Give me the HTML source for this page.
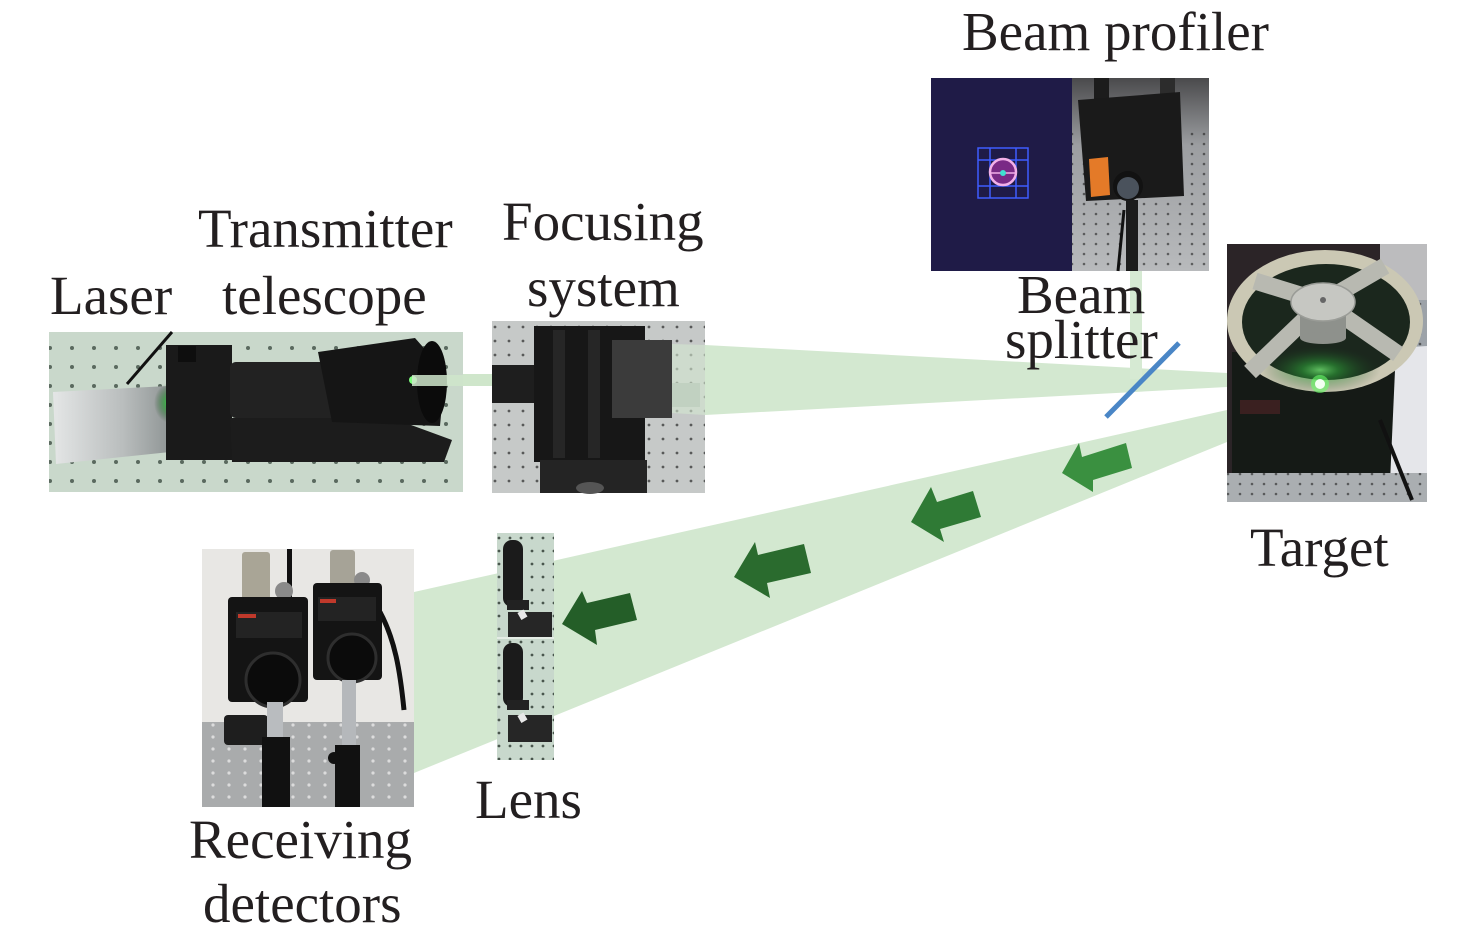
<!DOCTYPE html>
<html><head><meta charset="utf-8"><style>
html,body{margin:0;padding:0;background:#fff;}
svg{display:block;}
text{font-family:"Liberation Serif","Times New Roman",serif;font-size:55px;fill:#231f20;}
</style></head><body>
<svg width="1476" height="947" viewBox="0 0 1476 947" xmlns="http://www.w3.org/2000/svg">
<defs>
<pattern id="dotsA" width="22" height="19" patternUnits="userSpaceOnUse"><circle cx="6" cy="6" r="2" fill="#2b3a30" opacity="0.7"/></pattern>
<pattern id="dotsB" width="14" height="14" patternUnits="userSpaceOnUse"><circle cx="5" cy="5" r="1.4" fill="#2a2a2a" opacity="0.7"/></pattern>
<pattern id="dotsC" width="12" height="10" patternUnits="userSpaceOnUse"><circle cx="4" cy="4" r="1.3" fill="#222" opacity="0.6"/></pattern>
<pattern id="dotsD" width="16" height="12" patternUnits="userSpaceOnUse"><circle cx="5" cy="5" r="1.6" fill="#e8e8e8" opacity="0.8"/></pattern>
<pattern id="dotsE" width="11" height="13" patternUnits="userSpaceOnUse"><circle cx="4" cy="5" r="1.4" fill="#1e2a22" opacity="0.75"/></pattern>
<radialGradient id="glow" cx="0.5" cy="0.5" r="0.5"><stop offset="0" stop-color="#7dff7d"/><stop offset="0.3" stop-color="#2fa83a" stop-opacity="0.8"/><stop offset="1" stop-color="#1a3a1e" stop-opacity="0"/></radialGradient>
<linearGradient id="foil" x1="0" x2="1" y1="0" y2="0"><stop offset="0" stop-color="#e4e6e6"/><stop offset="0.6" stop-color="#b9bdbd"/><stop offset="1" stop-color="#8f9595"/></linearGradient>
<linearGradient id="profR" x1="0" x2="0" y1="0" y2="1"><stop offset="0" stop-color="#4a4a4c"/><stop offset="0.35" stop-color="#9c9ea1"/><stop offset="1" stop-color="#b8babc"/></linearGradient>
</defs>

<!-- Beams -->
<polygon points="414,592 1227,410 1227,442 414,773" fill="#d3e8d0"/>
<polygon points="705,345 1227,373 1227,387 705,415" fill="#d3e8d0"/>
<rect x="1130" y="271" width="12" height="108" fill="#d6ead3"/>
<rect x="440" y="374" width="52" height="12" fill="#cfe6cb"/>

<!-- Laser + telescope photo -->
<g>
<rect x="49" y="332" width="414" height="160" fill="#c9d8cb"/>
<rect x="49" y="332" width="414" height="160" fill="url(#dotsA)"/>
<line x1="127" y1="384" x2="172" y2="332" stroke="#111" stroke-width="3"/>
<polygon points="53,392 168,386 170,452 56,464" fill="url(#foil)"/>
<ellipse cx="170" cy="403" rx="16" ry="20" fill="url(#glow)"/>
<rect x="166" y="345" width="66" height="115" fill="#1a1a1a"/>
<rect x="178" y="346" width="18" height="16" fill="#0e0e0e"/>
<polygon points="230,418 392,418 452,440 444,462 232,462" fill="#1c1c1c"/>
<rect x="230" y="362" width="110" height="56" fill="#222" rx="6"/>
<polygon points="318,352 415,338 445,372 440,426 332,422" fill="#151515"/>
<ellipse cx="432" cy="382" rx="15" ry="41" fill="#0b0b0b"/>
<circle cx="413" cy="380" r="4" fill="#7dff7d"/>
<rect x="412" y="375" width="51" height="11" fill="#cfe6cb" opacity="0.85"/>
</g>

<!-- Focusing system photo -->
<g>
<rect x="492" y="321" width="213" height="172" fill="#c6c9c8"/>
<rect x="492" y="321" width="213" height="172" fill="url(#dotsB)"/>
<rect x="492" y="365" width="48" height="38" fill="#1e1e1e"/>
<rect x="534" y="326" width="111" height="136" fill="#171717"/>
<rect x="553" y="330" width="12" height="128" fill="#262626"/>
<rect x="588" y="330" width="12" height="128" fill="#262626"/>
<rect x="612" y="340" width="60" height="78" fill="#3b3b3b"/>
<rect x="672" y="383" width="28" height="24" fill="#a6aeaa"/>
<rect x="540" y="460" width="107" height="33" fill="#242424"/>
<ellipse cx="590" cy="488" rx="14" ry="6" fill="#555"/>
<polygon points="672,344 705,345 705,415 672,413" fill="#d3e8d0" opacity="0.6"/>
</g>

<!-- Beam profiler -->
<g>
<rect x="931" y="78" width="141" height="193" fill="#1f1b47"/>
<g stroke="#3f5cff" stroke-width="1.5" fill="none">
<rect x="978" y="148" width="50" height="50"/>
<line x1="978" y1="160" x2="1028" y2="160"/><line x1="978" y1="186" x2="1028" y2="186"/>
<line x1="990" y1="148" x2="990" y2="198"/><line x1="1016" y1="148" x2="1016" y2="198"/>
</g>
<circle cx="1003" cy="172" r="13" fill="#7a2a86" stroke="#f2b0e8" stroke-width="2.5"/>
<line x1="990" y1="173" x2="1016" y2="173" stroke="#f2b0e8" stroke-width="1.5"/>
<circle cx="1003" cy="173" r="3" fill="#3fe0d0"/>
<rect x="1072" y="78" width="137" height="193" fill="url(#profR)"/>
<rect x="1072" y="130" width="137" height="141" fill="url(#dotsC)"/>
<rect x="1094" y="78" width="15" height="22" fill="#1c1c1c"/>
<rect x="1160" y="78" width="15" height="18" fill="#2c2c2c"/>
<polygon points="1078,100 1180,92 1184,196 1086,201" fill="#1a1a1a"/>
<polygon points="1089,159 1108,157 1110,195 1091,197" fill="#e47a28"/>
<circle cx="1128" cy="186" r="15" fill="#121212"/>
<circle cx="1128" cy="188" r="11" fill="#4a525c"/>
<rect x="1126" y="200" width="12" height="71" fill="#1c1c1c"/>
<line x1="1124" y1="210" x2="1118" y2="271" stroke="#111" stroke-width="3"/>
</g>

<!-- Target photo -->
<g>
<rect x="1227" y="244" width="200" height="258" fill="#2b2427"/>
<rect x="1380" y="244" width="47" height="58" fill="#bcbcbe"/>
<rect x="1366" y="300" width="61" height="55" fill="#9ca2a8"/>
<rect x="1366" y="300" width="61" height="55" fill="url(#dotsC)"/>
<rect x="1232" y="352" width="170" height="123" fill="#151a16"/>
<polygon points="1396,348 1427,346 1427,488 1390,482" fill="#e5e6ea"/>
<rect x="1227" y="473" width="200" height="29" fill="#aaaeb1"/>
<rect x="1227" y="473" width="200" height="29" fill="url(#dotsC)"/>
<rect x="1240" y="400" width="40" height="14" fill="#3a2020"/>
<line x1="1380" y1="420" x2="1412" y2="500" stroke="#111" stroke-width="4"/>
<ellipse cx="1325" cy="321" rx="98" ry="71" fill="#cbc8b4"/>
<ellipse cx="1326" cy="322" rx="84" ry="58" fill="#1b271d"/>
<ellipse cx="1320" cy="370" rx="60" ry="24" fill="url(#glow)" opacity="0.7"/>
<g stroke="#b8b9b1" stroke-width="17" stroke-linecap="butt">
<line x1="1323" y1="302" x2="1255" y2="281"/>
<line x1="1323" y1="302" x2="1385" y2="266"/>
<line x1="1323" y1="302" x2="1250" y2="372"/>
<line x1="1323" y1="302" x2="1398" y2="354"/>
</g>
<rect x="1300" y="302" width="46" height="36" fill="#8e918c"/>
<ellipse cx="1323" cy="338" rx="23" ry="6" fill="#8e918c"/>
<ellipse cx="1323" cy="302" rx="32" ry="19" fill="#c6c7c2" stroke="#9a9c97" stroke-width="1.5"/>
<circle cx="1323" cy="300" r="3" fill="#666"/>
<circle cx="1320" cy="384" r="9" fill="#6cff6c" opacity="0.6"/>
<circle cx="1320" cy="384" r="5" fill="#f2fff2"/>
</g>

<!-- Receiving detectors photo -->
<g>
<rect x="202" y="549" width="212" height="258" fill="#e8e7e4"/>
<rect x="202" y="722" width="212" height="85" fill="#a9abac"/>
<rect x="202" y="722" width="212" height="85" fill="url(#dotsD)"/>
<rect x="224" y="715" width="44" height="30" fill="#1e1e1e" rx="4"/>
<rect x="287" y="549" width="5" height="60" fill="#111"/>
<path d="M380,612 C395,640 400,670 404,710" stroke="#111" stroke-width="5" fill="none"/>
<rect x="242" y="552" width="28" height="51" fill="#a9a596" rx="3"/>
<rect x="330" y="550" width="25" height="40" fill="#a6a397" rx="3"/>
<circle cx="284" cy="591" r="9" fill="#8a8a8a"/>
<circle cx="362" cy="580" r="8" fill="#8a8a8a"/>
<rect x="228" y="597" width="80" height="105" fill="#141414" rx="4"/>
<rect x="313" y="583" width="69" height="97" fill="#141414" rx="4"/>
<rect x="236" y="612" width="66" height="26" fill="#232323"/>
<rect x="318" y="597" width="58" height="24" fill="#232323"/>
<rect x="238" y="614" width="18" height="4" fill="#c0392b"/>
<rect x="320" y="599" width="16" height="4" fill="#c0392b"/>
<circle cx="273" cy="680" r="27" fill="#0b0b0b" stroke="#2e2e2e" stroke-width="3"/>
<circle cx="352" cy="658" r="24" fill="#0b0b0b" stroke="#2e2e2e" stroke-width="3"/>
<rect x="267" y="702" width="16" height="36" fill="#b9bcbf"/>
<rect x="262" y="737" width="28" height="70" fill="#111"/>
<rect x="342" y="680" width="14" height="65" fill="#b5b8bb"/>
<rect x="335" y="745" width="25" height="62" fill="#111"/>
<circle cx="334" cy="758" r="6" fill="#111"/>
</g>

<!-- Lens photo -->
<g>
<rect x="497" y="533" width="57" height="227" fill="#c8d8cc"/>
<rect x="497" y="533" width="57" height="227" fill="url(#dotsE)"/>
<rect x="503" y="540" width="20" height="67" fill="#1b1b1b" rx="9"/>
<rect x="507" y="600" width="22" height="10" fill="#222"/>
<rect x="508" y="612" width="44" height="25" fill="#262626"/>
<rect x="519" y="611" width="7" height="8" fill="#e8e8e8" transform="rotate(-30 522 615)"/>
<line x1="497" y1="638" x2="554" y2="638" stroke="#e4ece5" stroke-width="2"/>
<rect x="503" y="643" width="20" height="64" fill="#1b1b1b" rx="9"/>
<rect x="507" y="700" width="22" height="10" fill="#222"/>
<rect x="508" y="715" width="44" height="27" fill="#262626"/>
<rect x="519" y="714" width="7" height="8" fill="#e8e8e8" transform="rotate(-30 522 718)"/>
</g>

<!-- Arrows -->
<polygon points="1062,473 1079,443 1082,457 1126,443 1132,468 1093,480 1093,492" fill="#3a9040"/>
<polygon points="911,522 931,487 937,502 973,491 981,517 940,529 944,542" fill="#2f7a35"/>
<polygon points="734,577 755,542 758,555 804,544 811,573 767,583 770,598" fill="#2a6b2e"/>
<polygon points="562,624 582,591 587,603 630,593 637,620 595,630 597,645" fill="#245e28"/>

<!-- Beam splitter -->
<line x1="1106" y1="417" x2="1179" y2="343" stroke="#4a86c6" stroke-width="5"/>

<!-- Labels -->
<text x="962" y="50">Beam profiler</text>
<text x="198" y="247">Transmitter</text>
<text x="50" y="314">Laser</text>
<text x="222" y="314">telescope</text>
<text x="502" y="240">Focusing</text>
<text x="527" y="306">system</text>
<text x="1017" y="313">Beam</text>
<text x="1005" y="358">splitter</text>
<text x="1250" y="566">Target</text>
<text x="475" y="818">Lens</text>
<text x="189" y="858">Receiving</text>
<text x="203" y="922">detectors</text>
</svg>
</body></html>
